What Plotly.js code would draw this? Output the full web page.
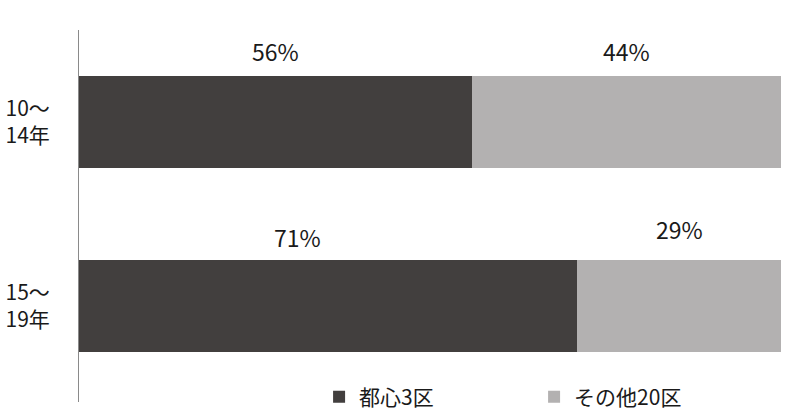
<!DOCTYPE html>
<html><head><meta charset="utf-8">
<script src="https://cdn.plot.ly/plotly-3.0.1.min.js"></script>
<style>html,body{margin:0;padding:0;background:#fff}#c{width:800px;height:417px}</style>
</head><body><div id="c"></div>
<script>
const categories = ['10～<br>14年', '15～<br>19年'];
const seriesNames = ['都心3区', 'その他20区'];
const central3 = [56, 71];
const other20 = [44, 29];
const colors = ['#423f3e', '#b3b1b1'];
const font = 'Noto Sans CJK JP, Noto Sans, sans-serif';

const traces = [
  {type:'bar', orientation:'h', name:seriesNames[0], y:categories, x:central3,
   marker:{color:colors[0]}, hoverinfo:'none'},
  {type:'bar', orientation:'h', name:seriesNames[1], y:categories, x:other20,
   marker:{color:colors[1]}, hoverinfo:'none'}
];

const labelFont = {size:23, color:'#1a1a1a', family:font};
const annotations = [];
categories.forEach((c, i) => {
  annotations.push({x: central3[i]/2, y: c, text: central3[i] + '%',
    showarrow:false, yanchor:'middle', font:labelFont});
  annotations.push({x: central3[i] + other20[i]/2, y: c, text: other20[i] + '%',
    showarrow:false, yanchor:'middle', font:labelFont});
});
// labels sit above bars
annotations[0].yshift = 71;
annotations[1].yshift = 71;
annotations[2].yshift = 69; annotations[2].xshift = -31;
annotations[3].yshift = 77;

Plotly.newPlot('c', traces, {
  width:800, height:417,
  margin:{l:79, r:19, t:30, b:15, autoexpand:false},
  barmode:'stack', bargap:0.495,
  showlegend:true,
  legend:{orientation:'h', x:0.342, xanchor:'left', y:0.013, yanchor:'middle',
    entrywidth:170, entrywidthmode:'pixels', traceorder:'normal',
    font:{size:21, family:font, color:'#1a1a1a'}, bgcolor:'rgba(0,0,0,0)'},
  xaxis:{range:[0,100], visible:false, fixedrange:true},
  yaxis:{autorange:'reversed', showline:true, linecolor:'#8a8a8a', linewidth:1,
    ticks:'', ticklabelstandoff:24, showgrid:false, zeroline:false,
    tickfont:{size:21, family:font, color:'#1a1a1a'}},
  annotations: annotations,
  paper_bgcolor:'#fff', plot_bgcolor:'#fff'
}, {staticPlot:true});
</script></body></html>
